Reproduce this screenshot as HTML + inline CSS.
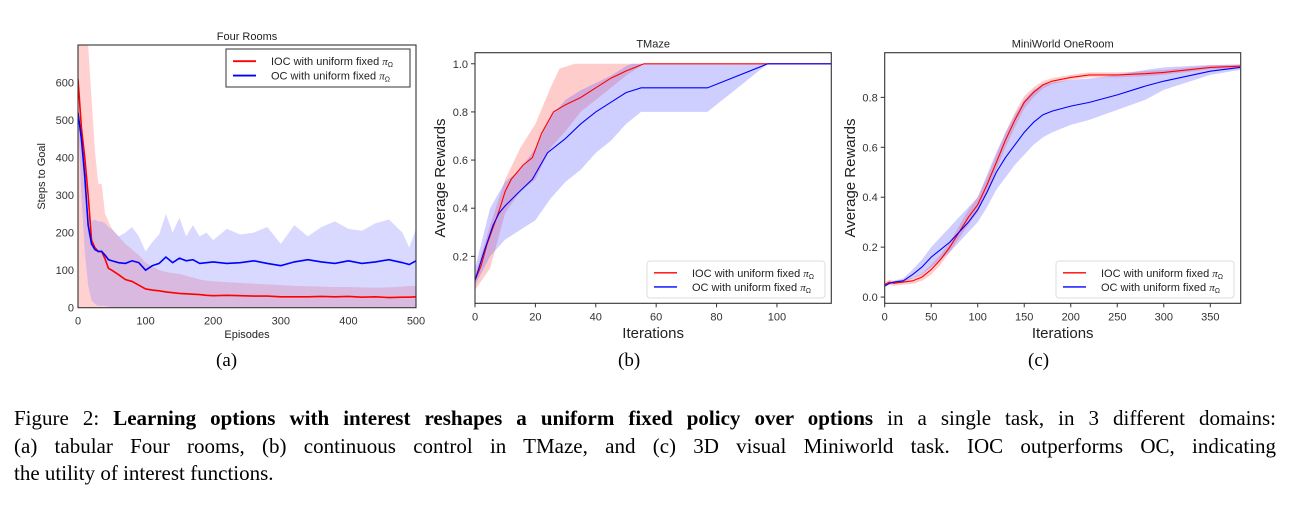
<!DOCTYPE html>
<html><head><meta charset="utf-8"><style>
body{margin:0;background:#fff;width:1314px;height:507px;overflow:hidden;position:relative}
svg{position:absolute;left:0;top:0}
.cap{position:absolute;left:14px;top:405px;width:1262px;font-family:"Liberation Serif",serif;font-size:21px;line-height:27.5px;color:#000}
.cap div{white-space:nowrap}
.cap .j{text-align:justify;text-align-last:justify;white-space:normal}
.sub{position:absolute;font-family:"Liberation Serif",serif;font-size:19px;top:350px}
</style></head><body>
<svg id="svg" width="1314" height="507" xmlns="http://www.w3.org/2000/svg" font-family="Liberation Sans, sans-serif"></svg>
<div class="sub" style="left:216px">(a)</div>
<div class="sub" style="left:618px">(b)</div>
<div class="sub" style="left:1028px">(c)</div>
<div class="cap">
<div class="j">Figure 2: <b>Learning options with interest reshapes a uniform fixed policy over options</b> in a single task, in 3 different domains:</div>
<div class="j">(a) tabular Four rooms, (b) continuous control in TMaze, and (c) 3D visual Miniworld task. IOC outperforms OC, indicating</div>
<div>the utility of interest functions.</div>
</div>
<script>
// ---- Chart A: Four Rooms ----
const aX=[0,5,10,15,20,25,30,35,40,45,50,60,70,80,90,100,110,120,130,140,150,160,170,180,190,200,220,240,260,280,300,320,340,360,380,400,420,440,460,480,490,500];
const aIocMean=[610,480,400,300,180,160,150,150,130,105,100,88,75,70,60,50,47,45,42,40,38,37,36,35,33,32,33,32,31,31,29,29,29,30,29,30,28,29,27,28,28,29];
const aIocHi=[700,700,700,700,560,420,330,330,250,230,210,190,170,155,140,120,110,100,95,92,90,85,80,75,72,70,68,66,64,62,60,58,57,56,55,55,54,53,54,56,58,58];
const aIocLo=[0,0,0,0,0,0,0,0,0,0,0,0,0,0,0,0,0,0,0,0,0,0,0,0,0,0,0,0,0,0,0,0,0,0,0,0,0,0,0,0,0,0];
const aOcMean=[520,450,350,220,170,155,150,150,140,128,125,120,118,125,120,100,112,118,135,120,132,125,128,118,120,122,118,120,125,118,112,122,128,122,118,125,118,122,128,120,115,125];
const aOcHi=[520,450,350,250,230,235,230,230,225,215,210,190,200,215,190,150,175,195,250,200,240,190,220,190,200,180,210,195,200,215,170,220,190,215,230,210,205,225,235,200,160,210];
const aOcLo=[500,300,150,60,20,10,5,5,5,3,2,2,2,2,2,2,2,2,2,2,2,2,2,2,2,2,2,2,2,2,2,2,2,2,2,2,2,2,2,2,2,2];
const aXTicks=[0,100,200,300,400,500];
const aYTicks=[0,100,200,300,400,500,600];
// ---- Chart B: TMaze ----
const bIocX=[0,2,4,6,8,10,12,14,16,19,22,26,30,35,40,45,50,56,118];
const bIocMean=[0.1,0.16,0.25,0.32,0.39,0.47,0.52,0.55,0.58,0.61,0.71,0.80,0.83,0.86,0.90,0.94,0.97,1.0,1.0];
const bIocHiX=[0,5,10,15,20,25,28,33,118];
const bIocHi=[0.12,0.33,0.52,0.65,0.75,0.90,0.98,1.0,1.0];
const bIocLoX=[0,5,10,15,20,25,30,35,40,45,50,56,118];
const bIocLo=[0.06,0.15,0.38,0.47,0.52,0.65,0.72,0.80,0.85,0.90,0.95,1.0,1.0];
const bOcX=[0,3,6,8,10,14,19,24,30,35,40,45,50,55,77,97,118];
const bOcMean=[0.1,0.22,0.33,0.38,0.41,0.46,0.52,0.63,0.69,0.75,0.80,0.84,0.88,0.90,0.90,1.0,1.0];
const bOcHiX=[0,5,10,15,20,25,30,35,40,45,50,52,118];
const bOcHi=[0.15,0.40,0.51,0.56,0.65,0.78,0.85,0.89,0.92,0.95,0.99,1.0,1.0];
const bOcLoX=[0,5,10,15,20,25,30,35,40,45,50,55,77,97,118];
const bOcLo=[0.08,0.20,0.27,0.31,0.35,0.44,0.51,0.56,0.63,0.68,0.75,0.80,0.80,1.0,1.0];
const bXTicks=[0,20,40,60,80,100];
const bYTicks=[0.2,0.4,0.6,0.8,1.0];
// ---- Chart C: MiniWorld OneRoom ----
const cX=[0,5,10,20,30,40,50,60,70,80,90,100,110,120,130,140,150,160,170,180,200,220,250,280,300,350,382];
const cIocMean=[0.05,0.06,0.055,0.06,0.065,0.08,0.11,0.15,0.20,0.26,0.32,0.37,0.45,0.54,0.63,0.71,0.78,0.82,0.85,0.865,0.88,0.89,0.89,0.895,0.90,0.92,0.925];
const cIocBand=[0.01,0.01,0.01,0.01,0.012,0.015,0.02,0.02,0.02,0.025,0.03,0.03,0.03,0.03,0.03,0.03,0.025,0.02,0.015,0.012,0.01,0.01,0.01,0.01,0.01,0.008,0.008];
const cOcMean=[0.045,0.055,0.06,0.065,0.09,0.12,0.16,0.19,0.22,0.26,0.30,0.35,0.42,0.50,0.56,0.61,0.66,0.70,0.73,0.745,0.765,0.78,0.81,0.845,0.865,0.905,0.92];
const cOcHi=[0.05,0.06,0.065,0.075,0.11,0.15,0.20,0.24,0.28,0.32,0.36,0.40,0.49,0.58,0.66,0.73,0.79,0.83,0.85,0.86,0.87,0.875,0.89,0.91,0.92,0.93,0.93];
const cOcLo=[0.04,0.05,0.055,0.06,0.075,0.09,0.12,0.15,0.18,0.22,0.26,0.30,0.36,0.43,0.48,0.53,0.57,0.61,0.64,0.66,0.69,0.71,0.75,0.79,0.83,0.89,0.91];
const cXTicks=[0,50,100,150,200,250,300,350];
const cYTicks=[0.0,0.2,0.4,0.6,0.8];

const NS="http://www.w3.org/2000/svg";
const svg=document.getElementById('svg');
function el(tag,attrs,parent){const e=document.createElementNS(NS,tag);for(const k in attrs)e.setAttribute(k,attrs[k]);(parent||svg).appendChild(e);return e;}
function txt(s,attrs,parent){const e=el('text',attrs,parent);e.textContent=s;return e;}

function chart(o){
  const g=el('g',{});
  
  
  const sx=v=>o.L+(v-o.x0)/(o.x1-o.x0)*(o.R-o.L);
  const sy=v=>o.B-(v-o.y0)/(o.y1-o.y0)*(o.B-o.T);
  const cp=el('clipPath',{id:'cp'+o.name},g);
  el('rect',{x:o.L,y:o.T,width:o.R-o.L,height:o.B-o.T},cp);
  const pg=el('g',{'clip-path':'url(#cp'+o.name+')'},g);
  o.series.forEach(s=>{
    const hx=s.hiX||s.x, lx=s.loX||s.x;
    let d='M'+hx.map((x,i)=>sx(x)+','+sy(s.hi[i])).join(' L');
    for(let i=lx.length-1;i>=0;i--) d+=' L'+sx(lx[i])+','+sy(s.lo[i]);
    const b=el('path',{d:d+'Z',fill:s.fill,'fill-opacity':s.op,stroke:'none'},pg);
    
    
  });
  o.series.forEach(s=>{
    const l=el('polyline',{points:s.x.map((x,i)=>sx(x)+','+sy(s.mean[i])).join(' '),fill:'none',stroke:s.color,'stroke-width':o.lw},pg);
    
    
  });
  el('rect',{x:o.L,y:o.T,width:o.R-o.L,height:o.B-o.T,fill:'none',stroke:'#333','stroke-width':1.1},g);
  o.xt.forEach(v=>{
    if(o.ticks) el('line',{x1:sx(v),x2:sx(v),y1:o.B,y2:o.B+4,stroke:'#333'},g);
    const t=txt(String(v),{x:sx(v),y:o.B+17,'font-size':11,'text-anchor':'middle',fill:'#333'},g);
    
    
  });
  o.yt.forEach(v=>{
    if(o.ticks) el('line',{x1:o.L-4,x2:o.L,y1:sy(v),y2:sy(v),stroke:'#333'},g);
    const t=txt(o.yf(v),{x:o.L-(o.ticks?7:4),y:sy(v)+4,'font-size':11,'text-anchor':'end',fill:'#333'},g);
    
    
  });
  const ti=txt(o.title,{x:(o.L+o.R)/2,y:o.T-5,'font-size':11,'text-anchor':'middle',fill:'#222'},g);
  
  
  const xl=txt(o.xlab,{x:(o.L+o.R)/2,y:o.xly,'font-size':o.lfs,'text-anchor':'middle',fill:'#222'},g);
  
  
  const yl=txt(o.ylab,{x:0,y:0,'font-size':o.lfs,'text-anchor':'middle',fill:'#222',transform:'translate('+o.ylx+','+(o.T+o.B)/2+') rotate(-90)'},g);
  
  
  const lg=el('g',{},g);
  
  
  const Lg=o.leg;
  el('rect',{x:Lg.x,y:Lg.y,width:Lg.w,height:Lg.h,fill:'#fff','fill-opacity':0.85,stroke:Lg.sc,rx:Lg.rx},lg);
  ['IOC','OC'].forEach((n,i)=>{
    const yy=Lg.y+Lg.h*(0.32+0.38*i);
    const e=el('g',{},lg);
    
    
    el('line',{x1:Lg.x+7,x2:Lg.x+30,y1:yy,y2:yy,stroke:o.series[i].color,'stroke-width':o.lw+0.3},e);
    const t=el('text',{x:Lg.x+Lg.tx,y:yy+4,'font-size':11,fill:'#222'},e);
    t.innerHTML=n+' with uniform fixed <tspan font-family="Liberation Serif, serif" font-style="italic">π</tspan><tspan font-size="7" dy="2">Ω</tspan>';
  });
}

chart({name:'chart-four-rooms',L:78,R:416,T:45,B:307.7,x0:0,x1:500,y0:0,y1:700,xt:aXTicks,yt:aYTicks,yf:v=>String(v),ticks:false,lw:1.6,
 title:'Four Rooms',xlab:'Episodes',xly:338,ylab:'Steps to Goal',ylx:45,lfs:11,
 leg:{x:226,y:49,w:184,h:38,sc:'#333',rx:0,tx:45},
 series:[{key:'ioc',x:aX,mean:aIocMean,hi:aIocHi,lo:aIocLo,color:'#f00',fill:'#ff9a9a',op:0.45},
         {key:'oc',x:aX,mean:aOcMean,hi:aOcHi,lo:aOcLo,color:'#00f',fill:'#8080ff',op:0.3}]});
chart({name:'chart-tmaze',L:475,R:831.3,T:52.7,B:303.3,x0:0,x1:118,y0:0.005,y1:1.046,xt:bXTicks,yt:bYTicks,yf:v=>v.toFixed(1),ticks:true,lw:1.1,
 title:'TMaze',xlab:'Iterations',xly:338,ylab:'Average Rewards',ylx:445,lfs:15,
 leg:{x:647,y:261,w:178,h:37,sc:'#ddd',rx:3,tx:45},
 series:[{key:'ioc',x:bIocX,mean:bIocMean,hiX:bIocHiX,hi:bIocHi,loX:bIocLoX,lo:bIocLo,color:'#f00',fill:'#ff8080',op:0.4},
         {key:'oc',x:bOcX,mean:bOcMean,hiX:bOcHiX,hi:bOcHi,loX:bOcLoX,lo:bOcLo,color:'#00f',fill:'#6060ff',op:0.3}]});
chart({name:'chart-miniworld',L:884.7,R:1240.7,T:52.7,B:303.3,x0:0,x1:382.7,y0:-0.025,y1:0.979,xt:cXTicks,yt:cYTicks,yf:v=>v.toFixed(1),ticks:true,lw:1.1,
 title:'MiniWorld OneRoom',xlab:'Iterations',xly:338,ylab:'Average Rewards',ylx:855,lfs:15,
 leg:{x:1056,y:261,w:178,h:37,sc:'#ddd',rx:3,tx:45},
 series:[{key:'ioc',x:cX,mean:cIocMean,hi:cIocMean.map((v,i)=>v+cIocBand[i]),lo:cIocMean.map((v,i)=>v-cIocBand[i]),color:'#f00',fill:'#ff8080',op:0.4},
         {key:'oc',x:cX,mean:cOcMean,hi:cOcHi,lo:cOcLo,color:'#00f',fill:'#6060ff',op:0.3}]});
</script>
</body></html>
